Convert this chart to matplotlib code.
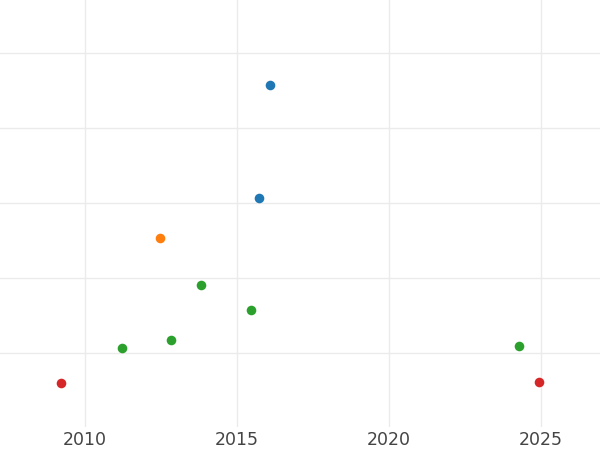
import matplotlib
matplotlib.use("Agg")
import matplotlib.pyplot as plt

# points, grouped by colour
blue_x = [2016.09, 2015.72]
blue_y = [4.57, 3.07]
orange_x = [2012.47]
orange_y = [2.53]
green_x = [2013.82, 2015.46, 2011.22, 2012.83, 2024.28]
green_y = [1.91, 1.57, 1.07, 1.17, 1.09]
red_x = [2009.21, 2024.93]
red_y = [0.60, 0.61]

fig = plt.figure(figsize=(6, 4.5), dpi=100)
ax = fig.add_axes([0, 1 - 427 / 450, 1, 427 / 450])

for xs, ys, c in [(blue_x, blue_y, "#1f77b4"), (orange_x, orange_y, "#ff7f0e"),
                  (green_x, green_y, "#2ca02c"), (red_x, red_y, "#d62728")]:
    ax.scatter(xs, ys, s=48, color=c, linewidths=0, zorder=3)

ax.set_xlim(2007.2, 2026.94)
ax.set_ylim(0.013, 5.707)
ax.set_xticks([2010, 2015, 2020, 2025])
ax.set_yticks([1, 2, 3, 4, 5])
ax.set_yticklabels([])
ax.grid(True, color="#ebebeb", linewidth=1)
ax.set_axisbelow(True)
ax.tick_params(length=0, labelsize=12.5, labelcolor="#444444", pad=3)
for s in ax.spines.values():
    s.set_visible(False)

fig.savefig("out.png", dpi=100)
